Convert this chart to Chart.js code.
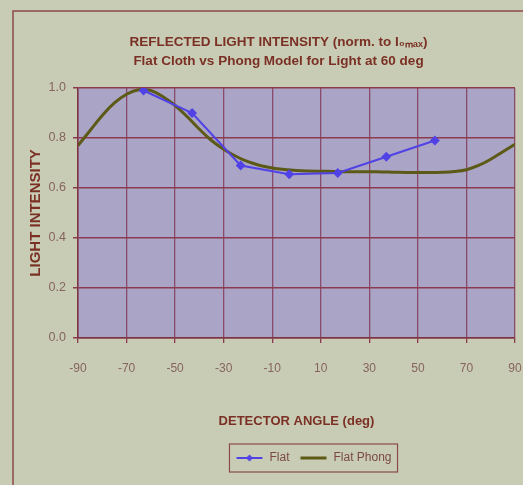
<!DOCTYPE html>
<html>
<head>
<meta charset="utf-8">
<script src="https://cdn.jsdelivr.net/npm/chart.js@4.4.1/dist/chart.umd.min.js"></script>
<style>
  html, body { margin: 0; padding: 0; background: #c9ccb5; }
  #wrap { width: 523px; height: 485px; }
</style>
</head>
<body>
<div id="wrap"><canvas id="chart"></canvas></div>
<script>
// values
const flatAngles = [-63, -43, -23, -3, 17, 37, 57];
const flatValues = [0.99, 0.9, 0.69, 0.655, 0.66, 0.725, 0.79];

const phongAngles = [-90, -85, -80, -75, -70, -65, -60, -55, -50, -45, -40, -35, -30, -25, -20, -15, -10, -5,
  0, 5, 10, 15, 20, 25, 30, 35, 40, 45, 50, 55, 60, 65, 70, 75, 80, 85, 90];
const phongValues = [0.77, 0.83, 0.89, 0.94, 0.975, 0.993, 0.99, 0.965, 0.93, 0.885, 0.835, 0.79, 0.755, 0.727, 0.705, 0.69, 0.68, 0.674,
  0.67, 0.668, 0.667, 0.666, 0.665, 0.665, 0.665, 0.664, 0.663, 0.662, 0.662, 0.662, 0.663, 0.666, 0.673, 0.69, 0.715, 0.745, 0.775];

const xTicks = [-90, -70, -50, -30, -10, 10, 30, 50, 70, 90];
const yTicks = [0, 0.2, 0.4, 0.6, 0.8, 1.0];

const BLUE = '#5142e6';
const OLIVE = '#5c5a16';
const MAROON = '#7a3024';
const TICK = '#86645c';

const legendIcon = (color, width, marker) => {
  const c = document.createElement('canvas');
  c.width = 28;
  c.height = 10;
  const g = c.getContext('2d');
  g.strokeStyle = color;
  g.lineWidth = width;
  g.beginPath();
  g.moveTo(1, 5);
  g.lineTo(27, 5);
  g.stroke();
  if (marker) {
    g.fillStyle = color;
    g.beginPath();
    g.moveTo(14, 1.5);
    g.lineTo(17.5, 5);
    g.lineTo(14, 8.5);
    g.lineTo(10.5, 5);
    g.fill();
  }
  return c;
};

const decor = {
  id: 'decor',
  beforeDraw(chart) {
    const { ctx, chartArea: a } = chart;
    ctx.save();
    ctx.fillStyle = '#c9ccb5';
    ctx.fillRect(0, 0, chart.width, chart.height);
    ctx.strokeStyle = '#8a4a48';
    ctx.lineWidth = 1.5;
    ctx.strokeRect(13, 11, 560, 560);
    ctx.fillStyle = '#aaa4c7';
    ctx.fillRect(a.left, a.top, a.right - a.left, a.bottom - a.top);
    ctx.restore();
  },
  afterLayout(chart) {
    chart.titleBlock.left += 8;
    chart.titleBlock.right += 8;
    chart.legend.left += 43;
    chart.legend.right += 43;
  },
  afterDraw(chart) {
    const boxes = chart.legend.legendHitBoxes;
    if (!boxes || !boxes.length) return;
    const x0 = Math.min(...boxes.map((b) => b.left)) - 6;
    const x1 = Math.max(...boxes.map((b) => b.left + b.width)) + 6;
    const y0 = Math.min(...boxes.map((b) => b.top)) - 8;
    const y1 = Math.max(...boxes.map((b) => b.top + b.height)) + 8;
    const { ctx } = chart;
    ctx.save();
    ctx.strokeStyle = '#8a4a48';
    ctx.lineWidth = 1.2;
    ctx.strokeRect(x0, y0, x1 - x0, y1 - y0);
    ctx.restore();
  },
};

new Chart(document.getElementById('chart'), {
  type: 'line',
  data: {
    datasets: [
      {
        label: 'Flat',
        data: flatAngles.map((x, i) => ({ x, y: flatValues[i] })),
        borderColor: BLUE,
        backgroundColor: BLUE,
        borderWidth: 2,
        pointStyle: 'rectRot',
        pointRadius: 3.5,
        tension: 0,
        order: 1,
      },
      {
        label: 'Flat Phong',
        data: phongAngles.map((x, i) => ({ x, y: phongValues[i] })),
        borderColor: OLIVE,
        backgroundColor: OLIVE,
        borderWidth: 3,
        pointRadius: 0,
        tension: 0.4,
        order: 2,
      },
    ],
  },
  options: {
    responsive: true,
    maintainAspectRatio: false,
    animation: false,
    layout: { padding: { top: 24, left: 26, right: 8, bottom: 11 } },
    plugins: {
      title: {
        display: true,
        text: ['REFLECTED LIGHT INTENSITY (norm. to I\u2080\u2098\u2090\u2093)', 'Flat Cloth vs Phong Model for Light at 60 deg'],
        color: MAROON,
        font: { family: 'Liberation Sans, Arial, sans-serif', size: 13.5, weight: 'bold', lineHeight: '19px' },
        padding: { top: 8.5, bottom: 17.5 },
      },
      legend: {
        position: 'bottom',
        labels: {
          color: '#7a4a40',
          font: { family: 'Liberation Sans, Arial, sans-serif', size: 12 },
          usePointStyle: true,
          pointStyleWidth: 28,
          padding: 10,
          generateLabels(chart) {
            return chart.data.datasets.map((ds, i) => ({
              text: ds.label,
              datasetIndex: i,
              pointStyle: i === 0 ? legendIcon(BLUE, 2, true) : legendIcon(OLIVE, 3, false),
              fontColor: '#7a4a40',
              lineWidth: 0,
              hidden: false,
            }));
          },
        },
      },
      tooltip: { enabled: false },
    },
    scales: {
      x: {
        type: 'linear',
        min: -90,
        max: 90,
        afterBuildTicks(scale) {
          scale.ticks = xTicks.map((v) => ({ value: v }));
        },
        afterFit(scale) {
          scale.paddingLeft = 0;
          scale.paddingRight = 0;
        },
        grid: { color: '#8a4a6a', lineWidth: 1.3, tickLength: 5, tickColor: '#8a3a4e' },
        border: { color: '#7e3442', width: 1.5 },
        ticks: {
          color: TICK,
          padding: 18.8,
          maxRotation: 0,
          font: { family: 'Liberation Sans, Arial, sans-serif', size: 12 },
        },
        title: {
          display: true,
          text: 'DETECTOR ANGLE (deg)',
          color: MAROON,
          font: { family: 'Liberation Sans, Arial, sans-serif', size: 13, weight: 'bold' },
          padding: { top: 19, bottom: 12.5 },
        },
      },
      y: {
        min: 0,
        max: 1,
        afterBuildTicks(scale) {
          scale.ticks = yTicks.map((v) => ({ value: v }));
        },
        afterFit(scale) {
          scale.width = 52;
        },
        grid: { color: '#8c3a4e', lineWidth: 1.5, tickLength: 5, tickColor: '#8a3a4e' },
        border: { color: '#7e3442', width: 1.5 },
        ticks: {
          color: TICK,
          padding: 7,
          callback: (v) => v.toFixed(1),
          font: { family: 'Liberation Sans, Arial, sans-serif', size: 12.5 },
        },
        title: {
          display: true,
          text: 'LIGHT INTENSITY',
          color: MAROON,
          font: { family: 'Liberation Sans, Arial, sans-serif', size: 15, weight: 'bold' },
          padding: { top: 1, bottom: 1 },
        },
      },
    },
  },
  plugins: [decor],
});
</script>
</body>
</html>
